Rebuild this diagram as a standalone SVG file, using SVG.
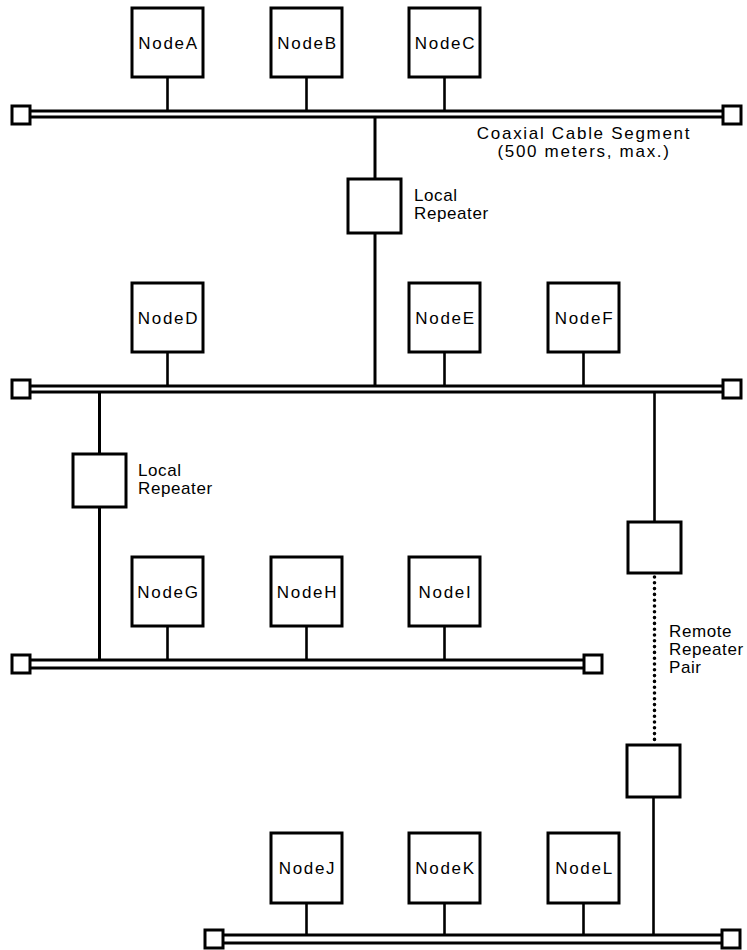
<svg xmlns="http://www.w3.org/2000/svg" width="747" height="950" viewBox="0 0 747 950">
<style>
.box{fill:#fff;stroke:#000;stroke-width:3}
.cab{stroke:#000;stroke-width:3;fill:none}
.end{fill:#fff;stroke:#000;stroke-width:3}
.ln{stroke:#000;stroke-width:2.6;fill:none}
.dot{stroke:#000;stroke-width:3.6;stroke-linecap:round;stroke-dasharray:0 5.8;fill:none}
text{font-family:"Liberation Sans",Arial,sans-serif;font-size:17px;fill:#000;letter-spacing:1.7px}
.lbl{text-anchor:middle}
.side{letter-spacing:0.6px}
</style>
<rect width="747" height="950" fill="#fff"/>
<g id="connectors">
  <line class="ln" x1="167.5" y1="77" x2="167.5" y2="111"/>
  <line class="ln" x1="306.5" y1="77" x2="306.5" y2="111"/>
  <line class="ln" x1="444.5" y1="77" x2="444.5" y2="111"/>
  <line class="ln" x1="167.5" y1="352" x2="167.5" y2="386"/>
  <line class="ln" x1="444.5" y1="352" x2="444.5" y2="386"/>
  <line class="ln" x1="583.5" y1="352" x2="583.5" y2="386"/>
  <line class="ln" x1="167.5" y1="626" x2="167.5" y2="660"/>
  <line class="ln" x1="306.5" y1="626" x2="306.5" y2="660"/>
  <line class="ln" x1="444.5" y1="626" x2="444.5" y2="660"/>
  <line class="ln" x1="306.5" y1="903" x2="306.5" y2="935"/>
  <line class="ln" x1="444.5" y1="903" x2="444.5" y2="935"/>
  <line class="ln" x1="583.5" y1="903" x2="583.5" y2="935"/>
  <line class="cab" x1="375" y1="117" x2="375" y2="179"/>
  <line class="cab" x1="375" y1="233" x2="375" y2="386"/>
  <line class="cab" x1="99.5" y1="392" x2="99.5" y2="454"/>
  <line class="cab" x1="99.5" y1="507" x2="99.5" y2="660"/>
  <line class="ln" x1="654.5" y1="392" x2="654.5" y2="522"/>
  <line class="dot" x1="654.5" y1="577" x2="654.5" y2="742"/>
  <line class="ln" x1="653.5" y1="797" x2="653.5" y2="935"/>
</g>
<g id="cable1">
  <line class="cab" x1="30" y1="111" x2="723" y2="111"/>
  <line class="cab" x1="30" y1="117" x2="723" y2="117"/>
  <rect class="end" x="12" y="106" width="18" height="18"/>
  <rect class="end" x="723" y="106" width="18" height="18"/>
</g>
<g id="cable2">
  <line class="cab" x1="30" y1="386" x2="723" y2="386"/>
  <line class="cab" x1="30" y1="392" x2="723" y2="392"/>
  <rect class="end" x="12" y="380" width="18" height="18"/>
  <rect class="end" x="723" y="380" width="18" height="18"/>
</g>
<g id="cable3">
  <line class="cab" x1="30" y1="660" x2="584" y2="660"/>
  <line class="cab" x1="30" y1="668" x2="584" y2="668"/>
  <rect class="end" x="12" y="655" width="18" height="18"/>
  <rect class="end" x="584" y="655" width="18" height="18"/>
</g>
<g id="cable4">
  <line class="cab" x1="223" y1="935" x2="722" y2="935"/>
  <line class="cab" x1="223" y1="943" x2="722" y2="943"/>
  <rect class="end" x="205" y="930" width="18" height="18"/>
  <rect class="end" x="722" y="930" width="18" height="18"/>
</g>
<g id="NodeA"><rect class="box" x="132" y="8" width="71" height="69"/><text class="lbl" x="168.5" y="49">NodeA</text></g>
<g id="NodeB"><rect class="box" x="271" y="8" width="71" height="69"/><text class="lbl" x="307.5" y="49">NodeB</text></g>
<g id="NodeC"><rect class="box" x="409" y="8" width="71" height="69"/><text class="lbl" x="445.5" y="49">NodeC</text></g>
<g id="NodeD"><rect class="box" x="132" y="283" width="71" height="69"/><text class="lbl" x="168.5" y="324">NodeD</text></g>
<g id="NodeE"><rect class="box" x="409" y="283" width="71" height="69"/><text class="lbl" x="445.5" y="324">NodeE</text></g>
<g id="NodeF"><rect class="box" x="548" y="283" width="71" height="69"/><text class="lbl" x="584.5" y="324">NodeF</text></g>
<g id="NodeG"><rect class="box" x="132" y="557" width="71" height="69"/><text class="lbl" x="168.5" y="598">NodeG</text></g>
<g id="NodeH"><rect class="box" x="271" y="557" width="71" height="69"/><text class="lbl" x="307.5" y="598">NodeH</text></g>
<g id="NodeI"><rect class="box" x="409" y="557" width="71" height="69"/><text class="lbl" x="445.5" y="598">NodeI</text></g>
<g id="NodeJ"><rect class="box" x="271" y="833" width="71" height="70"/><text class="lbl" x="307.5" y="874">NodeJ</text></g>
<g id="NodeK"><rect class="box" x="409" y="833" width="71" height="70"/><text class="lbl" x="445.5" y="874">NodeK</text></g>
<g id="NodeL"><rect class="box" x="548" y="833" width="71" height="70"/><text class="lbl" x="584.5" y="874">NodeL</text></g>
<g id="LocalRepeater1"><rect class="box" x="348" y="179" width="53" height="54"/><text class="side" x="414" y="201">Local</text><text class="side" x="414" y="219">Repeater</text></g>
<g id="LocalRepeater2"><rect class="box" x="73" y="454" width="53" height="53"/><text class="side" x="138" y="476">Local</text><text class="side" x="138" y="494">Repeater</text></g>
<g id="RemoteRepeater1"><rect class="box" x="628" y="522" width="53" height="51"/></g>
<g id="RemoteRepeater2"><rect class="box" x="627" y="745" width="53" height="52"/></g>
<g id="labels">
  <text class="lbl" x="584" y="139">Coaxial Cable Segment</text>
  <text class="lbl" x="584" y="157">(500 meters, max.)</text>
  <text class="side" x="669" y="637">Remote</text>
  <text class="side" x="669" y="655">Repeater</text>
  <text class="side" x="669" y="673">Pair</text>
</g>
</svg>
